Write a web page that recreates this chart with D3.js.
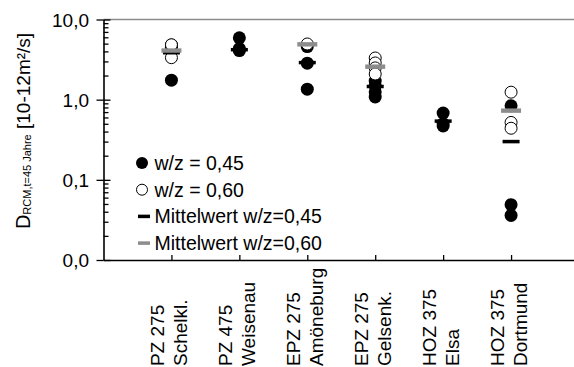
<!DOCTYPE html>
<html>
<head>
<meta charset="utf-8">
<script src="https://cdn.jsdelivr.net/npm/d3@7"></script>
<style>
  body { margin: 0; background: #fff; }
  svg { font-family: "Liberation Sans", Arial, sans-serif; }
</style>
</head>
<body>
<div class="chart"></div>
<script>
// Parameters
const width = 574;
const height = 367;
const margin = { top: 19.5, right: -5, bottom: 107, left: 103.5 };

// categories (two-line labels)
const labelTop = ['PZ 275', 'PZ 475', 'EPZ 275', 'EPZ 275', 'HOZ 375', 'HOZ 375'];
const labelBottom = ['Schelkl.', 'Weisenau', 'Amöneburg', 'Gelsenk.', 'Elsa', 'Dortmund'];

// single values w/z = 0,45 (filled) and w/z = 0,60 (open)
const values045 = [
    [1.75, 4.5, 4.8],
    [5.9, 4.35, 4.2, 4.1],
    [1.35, 2.85, 4.6],
    [1.71, 1.48, 1.25, 1.08],
    [0.68, 0.5, 0.47],
    [0.84, 0.049, 0.036]
];
const values060 = [
    [4.84, 3.34],
    [],
    [4.95],
    [3.31, 2.87, 2.49, 2.09],
    [],
    [1.24, 0.52, 0.44]
];

// mean values
const mean045 = [3.85, 4.2, 2.9, 1.46, 0.54, 0.30];
const mean060 = [4.1, null, 4.9, 2.58, null, 0.73];

// y tick labels
const yTicks = [0.01, 0.1, 1, 10];
const yTickLabels = ['0,0', '0,1', '1,0', '10,0'];

const legendLabels = ['w/z = 0,45', 'w/z = 0,60', 'Mittelwert w/z=0,45', 'Mittelwert w/z=0,60'];

const grey = '#8c8c8c';

function drawGraph() {
    const svg = d3.select('.chart')
        .append('svg')
        .attr('width', width)
        .attr('height', height);

    const scaleX = d3.scalePoint()
        .domain(d3.range(labelTop.length))
        .range([margin.left, width - margin.right])
        .padding(1);

    const scaleY = d3.scaleLog()
        .domain([0.01, 10])
        .range([height - margin.bottom, margin.top]);

    const y0 = scaleY(0.01);
    const y1 = scaleY(10);

    // top border (grey)
    svg.append('line')
        .attr('x1', margin.left).attr('x2', width)
        .attr('y1', y1).attr('y2', y1)
        .attr('stroke', grey).attr('stroke-width', 1.3);

    // minor ticks inside
    const minor = [];
    [0.01, 0.1, 1].forEach(d => { for (let k = 2; k <= 9; k++) minor.push(d * k); });
    svg.append('g')
        .attr('transform', `translate(${margin.left},0)`)
        .call(d3.axisRight(scaleY).tickValues(minor).tickSize(5).tickFormat(''))
        .call(g => g.select('.domain').remove())
        .call(g => g.selectAll('line').attr('stroke-width', 1.3));

    // major ticks crossing
    svg.append('g')
        .attr('transform', `translate(${margin.left},0)`)
        .call(d3.axisRight(scaleY).tickValues(yTicks).tickSize(7).tickFormat(''))
        .call(g => g.select('.domain').remove())
        .call(g => g.selectAll('line').attr('stroke-width', 1.3));

    svg.append('g')
        .attr('transform', `translate(${margin.left},0)`)
        .call(d3.axisLeft(scaleY).tickValues(yTicks).tickSize(7).tickSizeOuter(0)
            .tickFormat((d, i) => yTickLabels[i]))
        .call(g => g.select('.domain').attr('stroke-width', 1.6))
        .call(g => g.selectAll('line').attr('stroke-width', 1.3))
        .call(g => g.selectAll('text')
            .style('font-size', '19px')
            .attr('fill', '#000')
            .attr('x', -14.5)
            .attr('dy', '0.35em'));

    // bottom axis, ticks pointing up
    svg.append('g')
        .attr('transform', `translate(0,${y0})`)
        .call(d3.axisBottom(scaleX).tickSize(-5).tickSizeOuter(0).tickFormat(''))
        .call(g => g.select('.domain').attr('stroke-width', 1.6))
        .call(g => g.selectAll('line').attr('stroke-width', 1.3));

    // category labels, rotated
    const lab = svg.append('g')
        .selectAll('text')
        .data(labelTop)
        .join('text')
        .attr('transform', (d, i) => `translate(${scaleX(i)},366) rotate(-90)`)
        .style('font-size', '19px');
    lab.append('tspan').attr('x', 0).attr('y', -7).text(d => d);
    lab.append('tspan').attr('x', 0).attr('y', 16).text((d, i) => labelBottom[i]);

    // y axis title
    const title = svg.append('text')
        .attr('transform', `translate(30,${131}) rotate(-90)`)
        .attr('text-anchor', 'middle')
        .style('font-size', '19px');
    title.append('tspan').style('font-size', '20px').text('D');
    title.append('tspan').style('font-size', '11px').attr('dy', 1).text('RCM,t=45 Jahre');
    title.append('tspan').attr('dy', -1).text(' [10-12m²/s]');

    const r = 6.5;

    // filled points
    const flat045 = values045.flatMap((arr, i) => arr.map(v => ({ i, v })));
    svg.append('g')
        .selectAll('circle')
        .data(flat045)
        .join('circle')
        .attr('cx', d => scaleX(d.i))
        .attr('cy', d => scaleY(d.v))
        .attr('r', r)
        .attr('fill', '#000');

    // open points
    const flat060 = values060.flatMap((arr, i) => arr.map(v => ({ i, v })));
    svg.append('g')
        .selectAll('circle')
        .data(flat060)
        .join('circle')
        .attr('cx', d => scaleX(d.i))
        .attr('cy', d => scaleY(d.v))
        .attr('r', r - 0.5)
        .attr('fill', '#fff')
        .attr('stroke', '#000')
        .attr('stroke-width', 1);

    // means
    svg.append('g')
        .selectAll('rect')
        .data(mean045.map((v, i) => ({ i, v })).filter(d => d.v != null))
        .join('rect')
        .attr('x', d => scaleX(d.i) - 8.5)
        .attr('y', d => scaleY(d.v) - 1.75)
        .attr('width', 17)
        .attr('height', 3.5)
        .attr('fill', '#000');

    svg.append('g')
        .selectAll('rect')
        .data(mean060.map((v, i) => ({ i, v })).filter(d => d.v != null))
        .join('rect')
        .attr('x', d => scaleX(d.i) - 10)
        .attr('y', d => scaleY(d.v) - 2.2)
        .attr('width', 20)
        .attr('height', 4.4)
        .attr('fill', grey);

    // legend
    const legend = svg.append('g').attr('transform', 'translate(142,163)');
    const rowH = 26.7;
    legend.append('circle').attr('cx', 0).attr('cy', 0).attr('r', 6).attr('fill', '#000');
    legend.append('circle').attr('cx', 0).attr('cy', rowH).attr('r', 5.5)
        .attr('fill', '#fff').attr('stroke', '#000').attr('stroke-width', 1);
    legend.append('rect').attr('x', -4).attr('y', 2 * rowH - 1.75).attr('width', 12).attr('height', 3.5).attr('fill', '#000');
    legend.append('rect').attr('x', -4).attr('y', 3 * rowH - 1.75).attr('width', 12).attr('height', 3.5).attr('fill', grey);
    legend.selectAll('text')
        .data(legendLabels)
        .join('text')
        .attr('x', 12.5)
        .attr('y', (d, i) => i * rowH)
        .attr('dy', '0.35em')
        .style('font-size', '19.5px')
        .text(d => d);
}

drawGraph();
</script>
</body>
</html>
